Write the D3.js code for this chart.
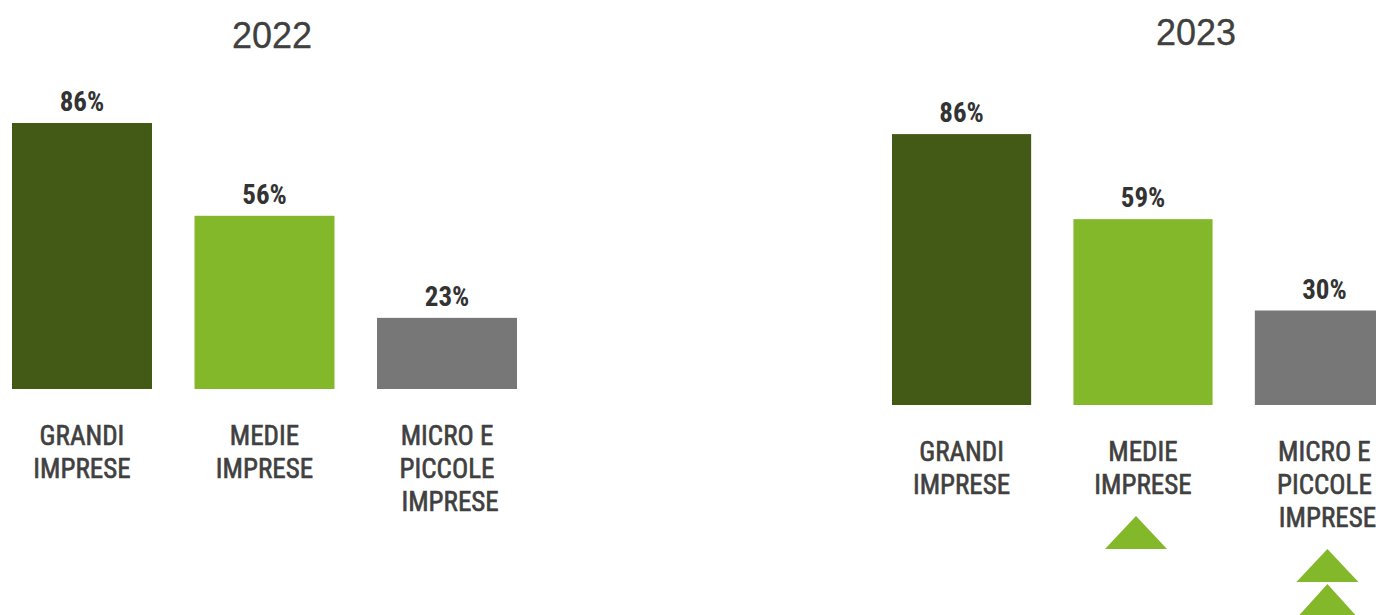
<!DOCTYPE html>
<html>
<head>
<meta charset="utf-8">
<script src="https://cdn.jsdelivr.net/npm/d3@7"></script>
<style>
  body { margin: 0; background: #fff; }
  svg { display: block; }
</style>
</head>
<body>
<svg id="chart" width="1376" height="615"></svg>
<script>
// two small bar panels, 2022 vs 2023, share of firms by size

let categories = [["GRANDI", "IMPRESE"], ["MEDIE", "IMPRESE"], ["MICRO E", "PICCOLE", " IMPRESE"]];
let years = ["2022", "2023"];
let values2022 = [86, 56, 23];
let values2023 = [86, 59, 30];
// how many up arrows under each category (only on 2023)
let arrows2023 = [0, 1, 2];

let barColors = ["#425a15", "#84b82b", "#777777"];
let arrowColor = "#84b82b";

let svg = d3.select("#chart");

// panel layout: x range, baseline, px of 100%
let panels = [
    { year: years[0], values: values2022, arrows: [0, 0, 0], x: [12, 517], base: 389, top: 79.7, titleX: 272, titleY: 48 },
    { year: years[1], values: values2023, arrows: arrows2023, x: [892, 1394], base: 405, top: 90, titleX: 1196, titleY: 45 }
];

let condensed = "'Liberation Sans Narrow', 'Arial Narrow', 'Roboto Condensed', sans-serif";
// small nudge of the arrows so they sit under the text like the original
let arrowShift = [0, -7, 3];

panels.forEach(function (p) {
    let idx = d3.range(categories.length);

    let xScale = d3.scaleBand(idx, p.x)
        .paddingInner(0.233)
        .paddingOuter(0);

    let yScale = d3.scaleLinear([0, 100], [p.base, p.top]);

    let g = svg.append("g");

    // year title
    g.append("text")
        .attr("x", p.titleX)
        .attr("y", p.titleY)
        .attr("text-anchor", "middle")
        .attr("font-family", "'Liberation Sans', Arial, sans-serif")
        .attr("font-size", 36)
        .attr("fill", "#404040")
        .attr("stroke", "#404040")
        .attr("stroke-width", 0.3)
        .text(p.year);

    // bars
    g.selectAll("rect.bar")
        .data(p.values)
        .join("rect")
        .attr("class", "bar")
        .attr("x", (d, i) => xScale(i))
        .attr("y", d => yScale(d))
        .attr("width", xScale.bandwidth())
        .attr("height", d => p.base - yScale(d))
        .attr("fill", (d, i) => barColors[i]);

    // value labels
    g.selectAll("text.val")
        .data(p.values)
        .join("text")
        .attr("class", "val")
        .attr("x", (d, i) => xScale(i) + xScale.bandwidth() / 2)
        .attr("y", d => yScale(d) - 12)
        .attr("text-anchor", "middle")
        .attr("font-family", condensed)
        .attr("font-weight", "bold")
        .attr("font-size", 27)
        .attr("fill", "#333333")
        .text(d => d + "%");

    // category labels
    let lineH = 33;
    let firstLine = p.base + 56;
    categories.forEach(function (lines, i) {
        let t = g.append("text")
            .attr("text-anchor", "middle")
            .attr("font-family", condensed)
            .attr("font-size", 27)
            .attr("fill", "#404040")
            .attr("stroke", "#404040")
            .attr("stroke-width", 0.6)
            .attr("xml:space", "preserve");
        lines.forEach(function (ln, j) {
            t.append("tspan")
                .attr("x", xScale(i) + xScale.bandwidth() / 2)
                .attr("y", firstLine + j * lineH)
                .text(ln);
        });

        // up arrows below the label
        let cx = xScale(i) + xScale.bandwidth() / 2 + arrowShift[i];
        let arrowTop = firstLine + (lines.length - 1) * lineH + 22;
        for (let k = 0; k < p.arrows[i]; k++) {
            let y0 = arrowTop + k * 35;
            let halfW = k == 0 ? 31 : 28;
            let h = k == 0 ? 33 : 31;
            g.append("path")
                .attr("d", "M" + (cx - halfW) + "," + (y0 + h) + " L" + cx + "," + y0 + " L" + (cx + halfW) + "," + (y0 + h) + " Z")
                .attr("fill", arrowColor);
        }
    });
});
</script>
</body>
</html>
